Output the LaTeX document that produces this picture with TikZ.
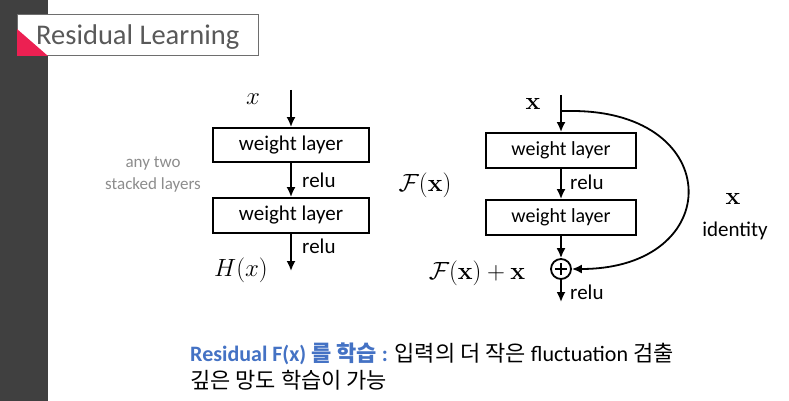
\documentclass[tikz,border=0pt]{standalone}
\usepackage[no-math]{fontspec}
\setmainfont{Carlito}
\newfontfamily\kr{Noto Sans CJK KR}
\usetikzlibrary{arrows.meta}
\definecolor{barcol}{HTML}{404040}
\definecolor{titlegray}{HTML}{595959}
\definecolor{titleborder}{HTML}{6E6E6E}
\definecolor{pinktri}{RGB}{236,32,82}
\definecolor{bluetxt}{HTML}{4472C4}
\definecolor{graytxt}{HTML}{8C8C8C}
\newcommand{\K}[1]{{\kr #1}}
\begin{document}
\begin{tikzpicture}[x=1pt,y=-1pt,
  layerbox/.style={draw, line width=1.9pt, minimum width=156pt, minimum height=34pt, inner sep=0pt, font=\fontsize{21}{24}\selectfont},
  rlayerbox/.style={layerbox, minimum width=150pt, minimum height=35pt, font=\fontsize{20}{24}\selectfont},
  arr/.style={line width=1.8pt, -{Latex[length=10pt,width=9pt]}},
  lbl/.style={font=\fontsize{21}{24}\selectfont, inner sep=0pt},
  mathlbl/.style={font=\fontsize{23}{27}\selectfont, inner sep=0pt}]
\useasboundingbox (0,0) rectangle (789,401);
\fill[barcol] (0,0) rectangle (48,401);
% title
\draw[fill=white, draw=titleborder, line width=1pt] (17,15) rectangle (258,56);
\fill[pinktri] (17,29) -- (48,56) -- (17,56) -- cycle;
\node[anchor=west, font=\fontsize{28.5}{32}\selectfont, text=titlegray, inner sep=0pt] (title) at (36,37) {Residual Learning};
% left diagram
\coordinate (inL) at (291,90);
\node[layerbox] (L1) at (291,145) {weight layer};
\node[layerbox, minimum height=35pt] (L2) at (291,215.5) {weight layer};
\coordinate (outL) at (291,271);
\draw[arr] (inL) -- (L1);
\draw[arr] (L1) -- (L2);
\draw[arr] (L2) -- (outL);
\node[mathlbl] (xL) at (253,99) {$x$};
\node[lbl, anchor=west] (reluL1) at (302,180) {relu};
\node[lbl, anchor=west] (reluL2) at (302,246) {relu};
\node[mathlbl] (HL) at (241,270) {$H(x)$};
\node[font=\fontsize{17}{22}\selectfont, text=graytxt, align=center, inner sep=0pt] (anytwo) at (153,174) {any two\\stacked layers};
% right diagram
\coordinate (inR) at (561,95);
\coordinate (split) at (561,111);
\node[rlayerbox] (R1) at (561,150.5) {weight layer};
\node[rlayerbox] (R2) at (561,217.5) {weight layer};
\node[draw, circle, line width=1.8pt, minimum size=20pt, inner sep=0pt] (plus) at (561,269) {};
\draw[line width=2pt] ([yshift=-6pt]plus.center) -- ([yshift=6pt]plus.center) ([xshift=-6pt]plus.center) -- ([xshift=6pt]plus.center);
\coordinate (outR) at (561,302);
\draw[arr] (inR) -- (R1);
\draw[arr] (R1) -- (R2);
\draw[arr] (R2) -- (plus);
\draw[arr] (plus) -- (outR);
\draw[arr] (split) -- (572,111) .. controls (726,111) and (726,269) .. (plus.east);
\node[mathlbl] (xR) at (533,104) {$\mathbf{x}$};
\node[lbl, anchor=west] (reluR1) at (570,182) {relu};
\node[lbl, anchor=west] (reluR2) at (570,292) {relu};
\node[mathlbl] (FR) at (425,185) {$\mathcal{F}(\mathbf{x})$};
\node[mathlbl] (FxR) at (477,273) {$\mathcal{F}(\mathbf{x})+\mathbf{x}$};
\node[mathlbl] (xid) at (733,199) {$\mathbf{x}$};
\node[lbl] (ident) at (735,231) {identity};
% bottom text
\node[anchor=west, inner sep=0pt, font=\fontsize{22}{26}\selectfont] (line1) at (190,354) {{\color{bluetxt}\bfseries Residual F(x) \K{를 학습} :} \K{입력의 더 작은} fluctuation \K{검출}};
\node[anchor=west, inner sep=0pt, font=\fontsize{22}{26}\selectfont] (line2) at (190,380) {\K{깊은 망도 학습이 가능}};
\end{tikzpicture}
\end{document}
